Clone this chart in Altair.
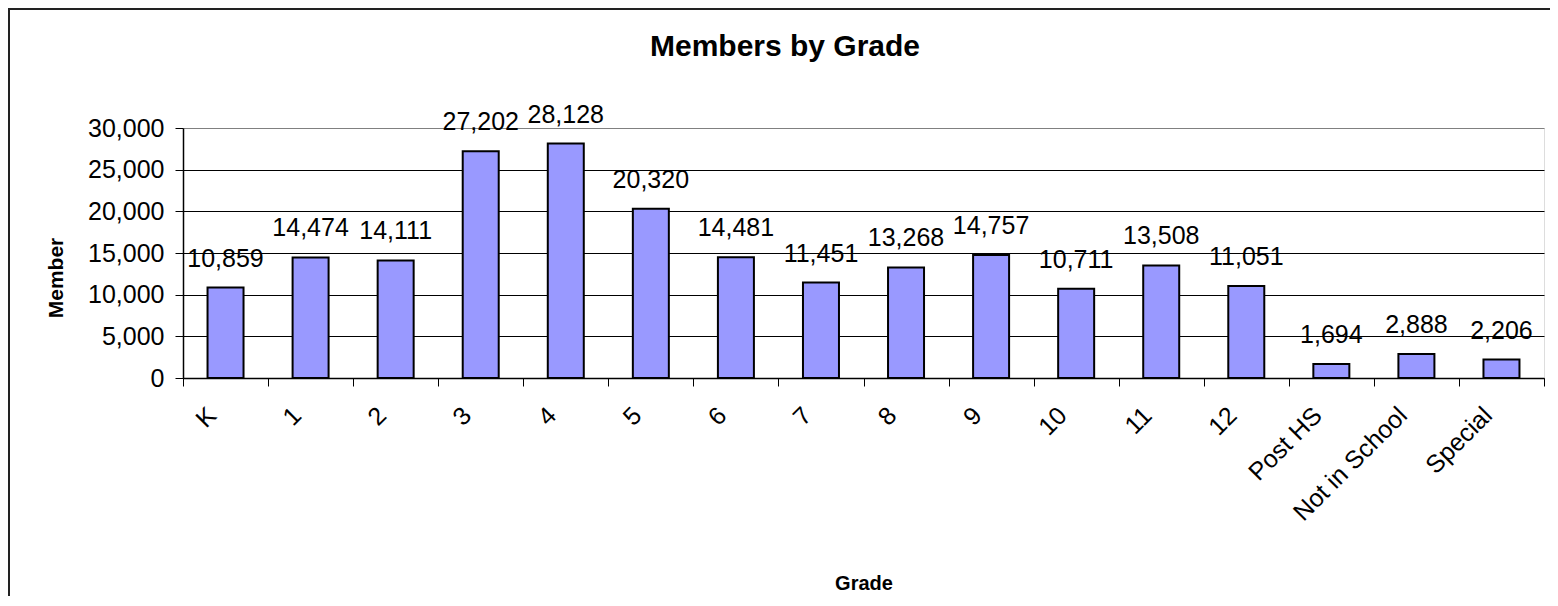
import altair as alt
import pandas as pd

grades = ["K", "1", "2", "3", "4", "5", "6", "7", "8", "9", "10", "11", "12",
          "Post HS", "Not in School", "Special"]
members = [10859, 14474, 14111, 27202, 28128, 20320, 14481, 11451, 13268,
           14757, 10711, 13508, 11051, 1694, 2888, 2206]
y_ticks = [0, 5000, 10000, 15000, 20000, 25000, 30000]
chart_title = "Members by Grade"

df = pd.DataFrame({"Grade": grades, "Member": members})

W, H = 1361, 250
FONT = "Liberation Sans"
FS = 25

x_enc = alt.X(
    "Grade:N", sort=grades,
    scale=alt.Scale(paddingInner=0, paddingOuter=0),
    axis=alt.Axis(
        title="Grade", titleFont=FONT, titleFontSize=20, titleFontWeight="bold",
        titleColor="black", titleY=211, titleBaseline="alphabetic",
        labelAngle=-45, labelAlign="right", labelBaseline="middle",
        labelOffset=-14, labelPadding=25, labelFont=FONT, labelFontSize=FS,
        labelColor="black", labelOverlap=False, labelBound=False,
        tickBand="extent", tickSize=8, tickColor="black", tickWidth=1,
        domainColor="black", domainWidth=1.5, grid=False,
    ),
)
y_enc = alt.Y(
    "Member:Q",
    scale=alt.Scale(domain=[0, 30000], nice=False),
    axis=alt.Axis(
        title="Member", titleFont=FONT, titleFontSize=21, titleFontWeight="bold",
        titleColor="black", titleX=-121, titleY=149.5, titleAngle=270,
        titleBaseline="alphabetic", titleAlign="center",
        values=y_ticks, format=",d", labelFont=FONT, labelFontSize=FS,
        labelColor="black", labelPadding=11, tickSize=8, tickColor="black",
        domainColor="black", domainWidth=1.5,
        grid=True,
        gridColor={"condition": {"test": "datum.value === 30000", "value": "#808080"},
                   "value": "black"},
        gridWidth=1,
    ),
)

bars = alt.Chart(df).mark_bar(
    color="#9999FF", stroke="black", strokeWidth=2, width=36
).encode(x=x_enc, y=y_enc)

labels = alt.Chart(df).mark_text(
    font=FONT, fontSize=FS, color="black", baseline="alphabetic", dy=-21
).encode(
    x=alt.X("Grade:N", sort=grades),
    y="Member:Q",
    text=alt.Text("Member:Q", format=",d"),
)

frame_df = pd.DataFrame({"a": [0]})
title_df = pd.DataFrame({"t": [chart_title]})

title_mark = alt.Chart(title_df).mark_text(
    font=FONT, fontSize=30, fontWeight="bold", color="black",
    align="center", baseline="alphabetic"
).encode(x=alt.value(602), y=alt.value(-72), text="t:N")

border_left = alt.Chart(frame_df).mark_rule(color="#222222", strokeWidth=2).encode(
    x=alt.value(-174), y=alt.value(-120), y2=alt.value(H + 230)
)
border_top = alt.Chart(frame_df).mark_rule(color="#222222", strokeWidth=2).encode(
    x=alt.value(-175), x2=alt.value(W + 6), y=alt.value(-119)
)

chart = alt.layer(bars, labels, title_mark, border_left, border_top).properties(
    width=W, height=H,
    autosize=alt.AutoSizeParams(type="none"),
    padding={"left": 175, "top": 120, "right": 6, "bottom": 218},
).configure_view(
    fill="#CCFFCC", stroke="#808080", strokeWidth=2
).configure(background="white")

chart.save("out.html", embed_options={"renderer": "svg", "actions": False})
